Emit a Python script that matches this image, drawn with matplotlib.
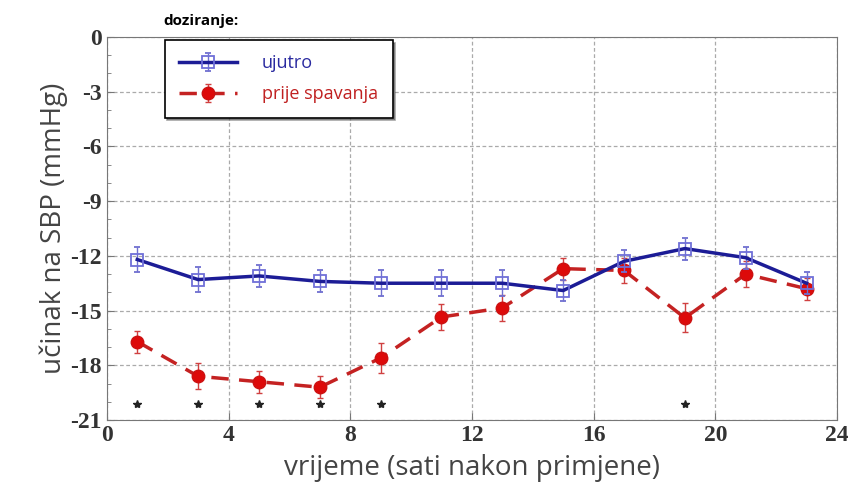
import numpy as np
import matplotlib
matplotlib.use('Agg')
import matplotlib.pyplot as plt
from matplotlib.ticker import MultipleLocator

plt.rcParams['axes.unicode_minus'] = False

hours = [1, 3, 5, 7, 9, 11, 13, 15, 17, 19, 21, 23]
morning = [-12.2, -13.3, -13.1, -13.4, -13.5, -13.5, -13.5, -13.9, -12.3, -11.6, -12.1, -13.5]
morning_err = [0.7, 0.7, 0.6, 0.6, 0.7, 0.7, 0.7, 0.6, 0.6, 0.6, 0.6, 0.6]
bedtime = [-16.7, -18.6, -18.9, -19.2, -17.6, -15.35, -14.85, -12.7, -12.8, -15.4, -13.0, -13.8]
bedtime_err = [0.6, 0.7, 0.6, 0.6, 0.8, 0.7, 0.7, 0.6, 0.7, 0.8, 0.7, 0.6]
star_hours = [1, 3, 5, 7, 9, 19]
star_y = -20.1

fig = plt.figure(figsize=(8.48, 4.93), dpi=100)
ax = fig.add_axes([0.126, 0.148, 0.861, 0.777])

ax.errorbar(hours, morning, yerr=morning_err, color='#1c1c96', lw=2.5,
            marker='s', ms=9, mfc='none', mec='#6f6fd8', mew=1.3,
            ecolor='#7070d0', elinewidth=1, capsize=2, label='ujutro', zorder=4)
ax.errorbar(hours, bedtime, yerr=bedtime_err, color='#c42222', lw=2.5, ls=(0, (5, 3)),
            marker='o', ms=9, mfc='#dd0a0a', mec='#cc1111',
            ecolor='#d04040', elinewidth=1, capsize=2, label='prije spavanja', zorder=3)
ax.plot(star_hours, [star_y] * len(star_hours), ls='none', marker='*', ms=6, color='#222222')

ax.set_xlim(0, 24)
ax.set_ylim(-21, 0)
ax.xaxis.set_major_locator(MultipleLocator(4))
ax.yaxis.set_major_locator(MultipleLocator(3))
ax.yaxis.set_minor_locator(MultipleLocator(1))
ax.grid(True, which='major', ls=(0, (3, 2)), color='#aaaaaa', lw=0.9)
ax.tick_params(which='both', direction='in', color='#777777')
ax.tick_params(which='minor', length=3)
ax.tick_params(which='major', length=5)
for lbl in ax.get_xticklabels() + ax.get_yticklabels():
    lbl.set_fontfamily('Liberation Serif')
    lbl.set_fontsize(17)
    lbl.set_fontweight('bold')
    lbl.set_color('#333333')
for s in ax.spines.values():
    s.set_color('#777777')

ax.set_xlabel('vrijeme (sati nakon primjene)', fontsize=20, family='Open Sans', color='#444444', labelpad=6)
ax.set_ylabel('učinak na SBP (mmHg)', fontsize=20, family='Open Sans', color='#444444', labelpad=2)

leg = ax.legend(loc='upper left', bbox_to_anchor=(0.079, 0.992), borderaxespad=0,
                prop={'family': 'Open Sans', 'size': 13},
                frameon=True, fancybox=False, shadow=True, borderpad=0.8, handlelength=3.2,
                handletextpad=1.4, labelspacing=0.7, edgecolor='black')
leg.get_frame().set_linewidth(1.2)
for t, c in zip(leg.get_texts(), ['#2a2aa0', '#c02020']):
    t.set_color(c)

fig.text(0.193, 0.958, 'doziranje:', fontsize=11, fontweight='bold', family='Open Sans', va='center')

fig.savefig('out.png', dpi=100)
